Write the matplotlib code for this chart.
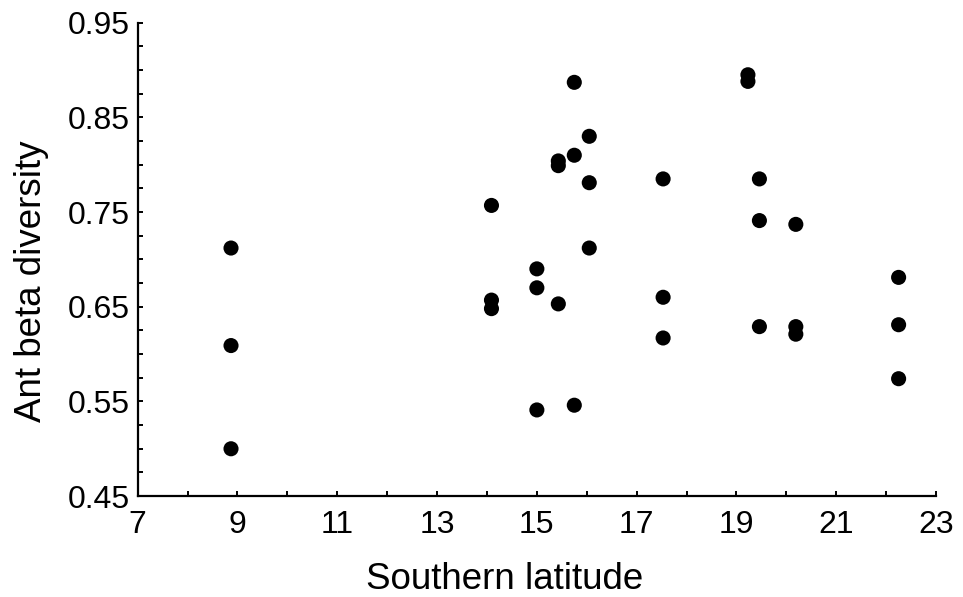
"""Ant beta diversity against southern latitude."""

import matplotlib

matplotlib.use("Agg")
import matplotlib.pyplot as plt
from matplotlib.ticker import MultipleLocator

latitude = [
    8.87, 8.87, 8.87,
    14.09, 14.09, 14.09,
    15.0, 15.0, 15.0,
    15.43, 15.43, 15.43,
    15.75, 15.75, 15.75,
    16.05, 16.05, 16.05,
    17.53, 17.53, 17.53,
    19.23, 19.23,
    19.46, 19.46, 19.46,
    20.19, 20.19, 20.19,
    22.25, 22.25, 22.25,
]
beta_diversity = [
    0.712, 0.609, 0.500,
    0.757, 0.657, 0.648,
    0.690, 0.670, 0.541,
    0.804, 0.799, 0.653,
    0.887, 0.810, 0.546,
    0.830, 0.781, 0.712,
    0.785, 0.660, 0.617,
    0.895, 0.888,
    0.785, 0.741, 0.629,
    0.737, 0.629, 0.621,
    0.681, 0.631, 0.574,
]
x_ticks = [7, 9, 11, 13, 15, 17, 19, 21, 23]
y_ticks = [0.45, 0.55, 0.65, 0.75, 0.85, 0.95]

plt.rcParams["font.family"] = ["Liberation Sans", "DejaVu Sans"]

fig = plt.figure(figsize=(9.63, 5.97), dpi=100, facecolor="white")
ax = fig.add_axes([0.143, 0.169, 0.829, 0.793])

ax.scatter(latitude, beta_diversity, s=118, color="black", edgecolors="none", zorder=3)

ax.set_xlim(7, 23)
ax.set_ylim(0.45, 0.95)
ax.set_xticks(x_ticks, [str(v) for v in x_ticks])
ax.set_yticks(y_ticks, [f"{v:.2f}" for v in y_ticks])
ax.xaxis.set_minor_locator(MultipleLocator(1))
ax.yaxis.set_minor_locator(MultipleLocator(0.025))

for side in ("top", "right"):
    ax.spines[side].set_visible(False)
for side in ("left", "bottom"):
    ax.spines[side].set_linewidth(1.6)
    ax.spines[side].set_color("black")

ax.tick_params(which="both", direction="in", length=3.5, width=1.4, color="black")
ax.tick_params(which="major", labelsize=23)
ax.tick_params(axis="x", which="major", pad=10)
ax.tick_params(axis="y", which="major", pad=6)

# the labels in the original sit a little off the axis centre
ax.set_xlabel("Southern latitude", fontsize=26.5, labelpad=16)
ax.set_ylabel("Ant beta diversity", fontsize=26.5, labelpad=13)
ax.xaxis.label.set_x(0.459)
ax.yaxis.label.set_y(0.454)

fig.savefig("out.png", dpi=100, facecolor="white")
